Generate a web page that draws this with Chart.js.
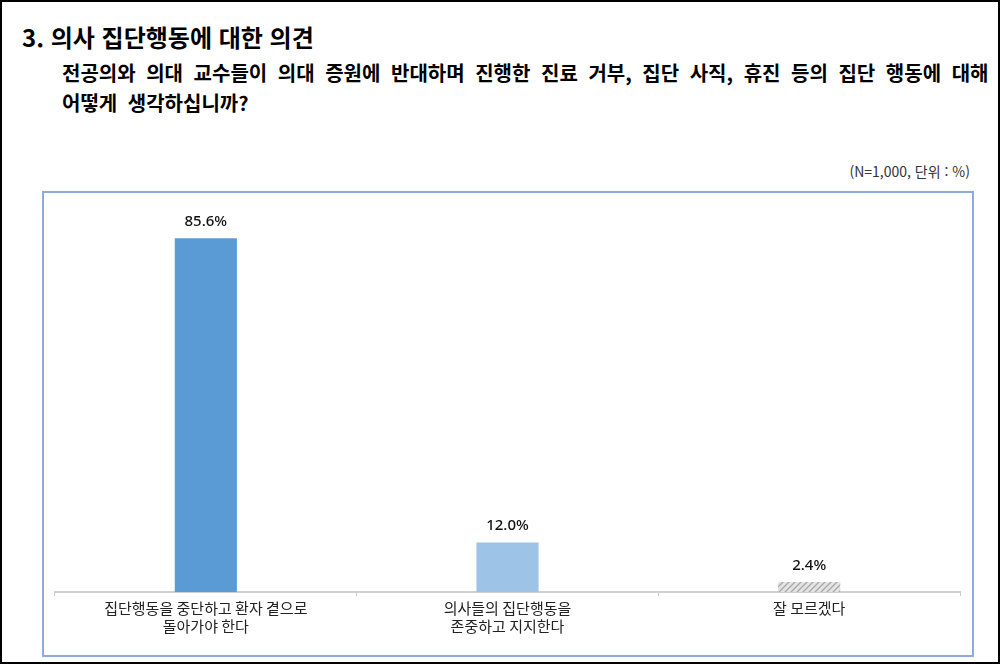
<!DOCTYPE html>
<html lang="ko">
<head>
<meta charset="utf-8">
<script src="https://cdn.jsdelivr.net/npm/chart.js@4"></script>
<style>
  html, body { margin: 0; padding: 0; background: #fff; }
  body { width: 1000px; height: 664px; position: relative; overflow: hidden;
         font-family: "Noto Sans CJK KR", "Noto Sans", sans-serif; }
  .frame { position: absolute; left: 0; top: 0; width: 996px; height: 660px; border: 2px solid #000; }
  .title { position: absolute; left: 22px; top: 20px; font-size: 24px; font-weight: 700;
           line-height: 34px; color: #000; white-space: nowrap; }
  .question { position: absolute; left: 62px; top: 58px; font-size: 20px; font-weight: 700;
              line-height: 30px; color: #000; word-spacing: 5px; white-space: nowrap; }
  .note { position: absolute; right: 30px; top: 161px; font-size: 14px; color: #333; white-space: nowrap; }
  .box { position: absolute; left: 42px; top: 191px; width: 928px; height: 462px;
         border: 2px solid #8eaadb; }
  .box canvas { display: block; }
</style>
</head>
<body>
<div class="frame"></div>
<div class="title">3. 의사 집단행동에 대한 의견</div>
<div class="question">전공의와 의대 교수들이 의대 증원에 반대하며 진행한 진료 거부, 집단 사직, 휴진 등의 집단 행동에 대해<br>어떻게 생각하십니까?</div>
<div class="note">(N=1,000, 단위 : %)</div>
<div class="box"><canvas id="chart" width="928" height="462"></canvas></div>

<script>
// data
const categories = [
    ['집단행동을 중단하고 환자 곁으로', '돌아가야 한다'],
    ['의사들의 집단행동을', '존중하고 지지한다'],
    '잘 모르겠다'
];
const values = [85.6, 12.0, 2.4];

// hatched fill for the "don't know" bar
function makeHatch() {
    const c = document.createElement('canvas');
    c.width = 6; c.height = 6;
    const g = c.getContext('2d');
    g.fillStyle = '#e4e4e4';
    g.fillRect(0, 0, 6, 6);
    g.strokeStyle = '#a8a8a8';
    g.lineWidth = 1.3;
    g.beginPath();
    g.moveTo(0, 6); g.lineTo(6, 0);
    g.moveTo(-3, 3); g.lineTo(3, -3);
    g.moveTo(3, 9); g.lineTo(9, 3);
    g.stroke();
    return g.createPattern(c, 'repeat');
}

const ctx = document.getElementById('chart').getContext('2d');
const barColors = ['#5b9bd5', '#9dc3e6', makeHatch()];

// labels above each bar
const valueLabels = {
    id: 'valueLabels',
    afterDatasetsDraw(chart) {
        const c = chart.ctx;
        const meta = chart.getDatasetMeta(0);
        c.save();
        c.font = '500 15px "Noto Sans", "Noto Sans CJK KR", sans-serif';
        c.fillStyle = '#111';
        c.textAlign = 'center';
        c.textBaseline = 'bottom';
        meta.data.forEach((bar, i) => {
            c.fillText(values[i].toFixed(1) + '%', bar.x, bar.y - 9);
        });
        c.restore();
    }
};

new Chart(ctx, {
    type: 'bar',
    data: {
        labels: categories,
        datasets: [{
            data: values,
            backgroundColor: barColors,
            borderWidth: 0,
            barPercentage: 0.206,
            categoryPercentage: 1.0
        }]
    },
    options: {
        responsive: false,
        animation: false,
        layout: { padding: { top: 27, left: 11, right: 12, bottom: 0 } },
        plugins: {
            legend: { display: false },
            tooltip: { enabled: false }
        },
        scales: {
            x: {
                grid: {
                    offset: true,
                    drawOnChartArea: false,
                    drawTicks: true,
                    tickLength: 4,
                    color: '#c8c8c8'
                },
                border: { display: true, color: '#d0d0d0', width: 2 },
                ticks: {
                    color: '#222',
                    padding: 3,
                    font: { family: '"Noto Sans CJK KR", sans-serif', size: 15 },
                    maxRotation: 0,
                    autoSkip: false
                },
                afterFit(scale) { scale.height = 63; }
            },
            y: {
                display: false,
                min: 0,
                max: 90
            }
        }
    },
    plugins: [valueLabels]
});
</script>
</body>
</html>
